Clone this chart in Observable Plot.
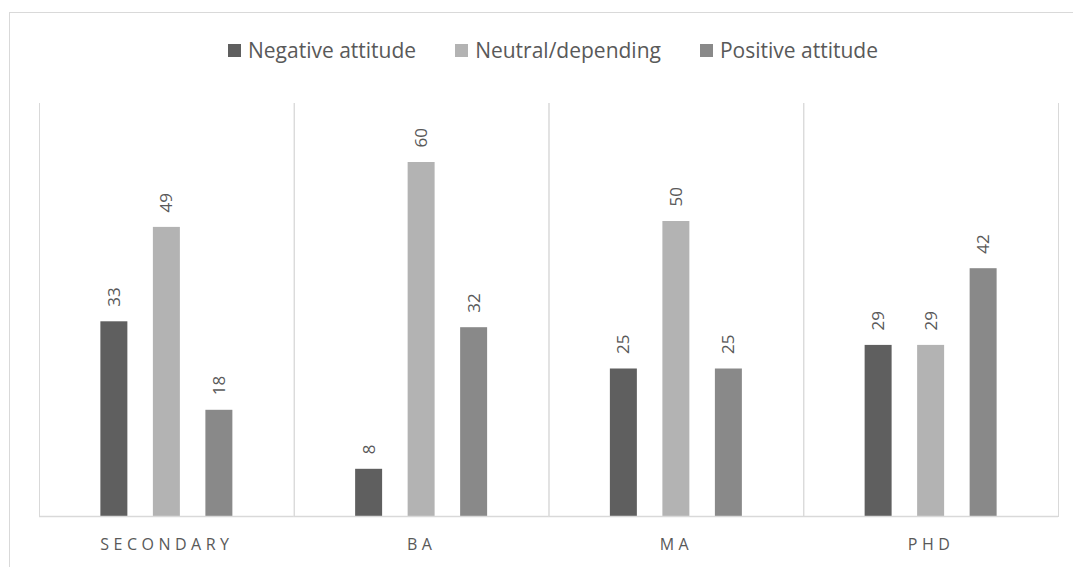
<!DOCTYPE html>
<html>
<head>
<meta charset="utf-8">
<script src="https://cdn.jsdelivr.net/npm/d3@7"></script>
<script src="https://cdn.jsdelivr.net/npm/@observablehq/plot@0.6"></script>
<style>
  html, body { margin: 0; padding: 0; background: #fff; overflow: hidden; }
  body { width: 1073px; height: 567px; position: relative; font-family: "Open Sans", sans-serif; }
  #frame { position: absolute; left: 9px; top: 12px; width: 1100px; height: 600px; border: 1px solid #d9d9d9; box-sizing: border-box; }
  #legend { position: absolute; left: 0; width: 1106px; top: 36px; display: flex; justify-content: center; gap: 39px; font-size: 21px; color: #595959; line-height: 28px; }
  #legend .item { display: flex; align-items: center; gap: 7px; }
  #legend .sw { width: 13px; height: 13px; display: inline-block; }
  #chart { position: absolute; left: 0; top: 0; }
  #chart [aria-label="fx-axis tick label"] text { letter-spacing: 4.5px; }
</style>
</head>
<body>
<div id="frame"></div>
<div id="legend"></div>
<div id="chart"></div>
<script>
// Education levels and attitude groups
const levels = ["SECONDARY", "BA", "MA", "PHD"];
const attitudes = ["Negative attitude", "Neutral/depending", "Positive attitude"];
const colors = ["#5f5f5f", "#b3b3b3", "#898989"];

// Percentages per level, one array per attitude group
const negative = [33, 8, 25, 29];
const neutral = [49, 60, 50, 29];
const positive = [18, 32, 25, 42];

const series = [negative, neutral, positive];
const rows = levels.flatMap((level, i) =>
  attitudes.map((attitude, j) => ({level, attitude, value: series[j][i]}))
);

// Legend
const legend = document.getElementById("legend");
attitudes.forEach((a, j) => {
  const item = document.createElement("span");
  item.className = "item";
  const sw = document.createElement("span");
  sw.className = "sw";
  sw.style.background = colors[j];
  const label = document.createElement("span");
  label.textContent = a;
  item.append(sw, label);
  legend.append(item);
});

const chart = Plot.plot({
  width: 1073,
  height: 567,
  marginLeft: 39,
  marginRight: 15,
  marginTop: 103,
  marginBottom: 51,
  style: {fontFamily: "'Open Sans', sans-serif", color: "#595959", background: "transparent"},
  fx: {domain: levels, padding: 0, round: false, label: null},
  x: {domain: attitudes, paddingInner: 0.486, paddingOuter: 1.169, round: false, axis: null},
  y: {domain: [0, 70], axis: null},
  color: {domain: attitudes, range: colors},
  marks: [
    Plot.frame({anchor: "left", stroke: "#d9d9d9"}),
    Plot.frame({anchor: "right", stroke: "#d9d9d9"}),
    Plot.barY(rows, {fx: "level", x: "attitude", y: "value", fill: "attitude"}),
    Plot.ruleY([0], {stroke: "#d9d9d9", strokeWidth: 1.5}),
    Plot.text(rows, {
      fx: "level", x: "attitude", y: "value", text: d => String(d.value),
      rotate: -90, textAnchor: "start", dy: -15, fontSize: 17, fill: "#595959"
    }),
    Plot.axisFx({anchor: "bottom", tickSize: 0, tickPadding: 22, fontSize: 16, label: null, color: "#595959"})
  ]
});
document.getElementById("chart").append(chart);
</script>
</body>
</html>
